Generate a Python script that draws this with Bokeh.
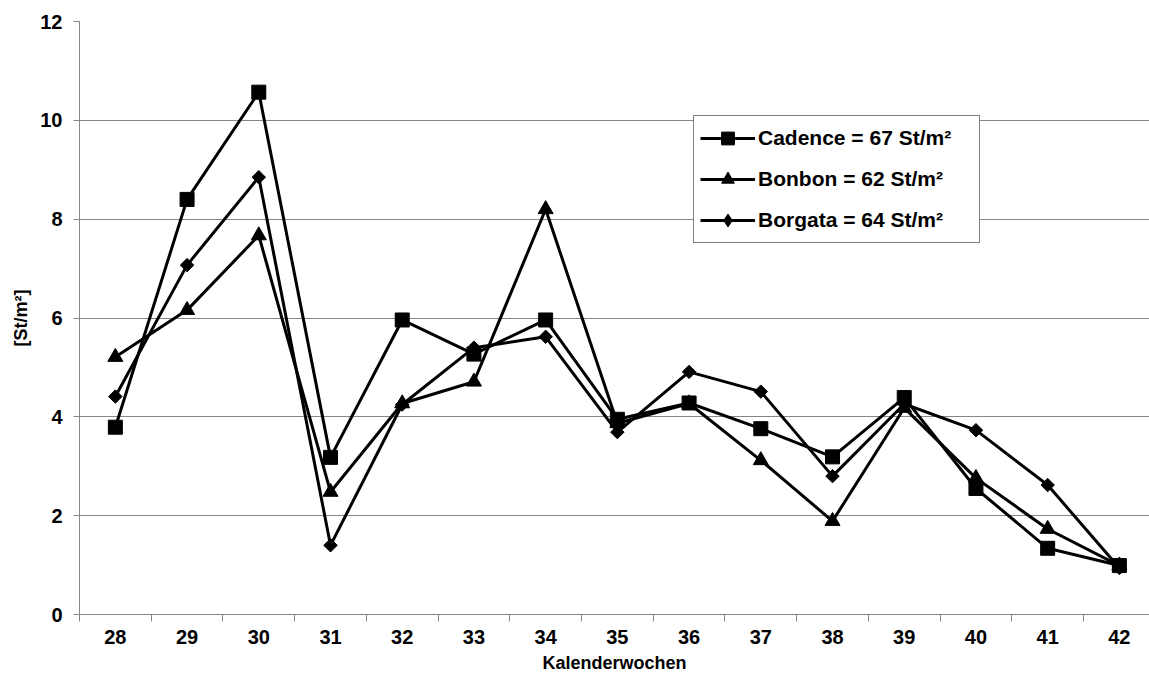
import math
from bokeh.plotting import figure
from bokeh.models import Range1d, FixedTicker, Legend, LegendItem, ColumnDataSource
from bokeh.embed import file_html
from bokeh.resources import INLINE

weeks = [28, 29, 30, 31, 32, 33, 34, 35, 36, 37, 38, 39, 40, 41, 42]
cadence = [3.79, 8.40, 10.57, 3.18, 5.96, 5.27, 5.96, 3.95, 4.28, 3.76, 3.19, 4.39, 2.55, 1.34, 0.99]
bonbon = [5.21, 6.16, 7.67, 2.48, 4.27, 4.71, 8.20, 3.87, 4.27, 3.12, 1.89, 4.18, 2.76, 1.73, 0.99]
borgata = [4.41, 7.07, 8.85, 1.40, 4.25, 5.40, 5.62, 3.69, 4.91, 4.51, 2.80, 4.26, 3.73, 2.62, 0.94]
labels = ["Cadence = 67 St/m²", "Bonbon = 62 St/m²", "Borgata = 64 St/m²"]
y_ticks = [0, 2, 4, 6, 8, 10, 12]

FONT = "Liberation Sans"
GRAY = "#868686"

p = figure(width=1149, height=684, output_backend="svg", toolbar_location=None,
           x_range=Range1d(27.5, 42.42), y_range=Range1d(0, 12),
           min_border_left=79, min_border_right=0, min_border_top=21, min_border_bottom=70)
p.outline_line_color = None
p.background_fill_color = "white"
p.border_fill_color = "white"

p.xgrid.grid_line_color = None
p.ygrid.grid_line_color = GRAY
p.ygrid.grid_line_width = 1

p.xaxis.ticker = FixedTicker(ticks=weeks, minor_ticks=[w + 0.5 for w in [27] + weeks])
p.xaxis.major_tick_out = 0
p.xaxis.major_tick_in = 0
p.xaxis.minor_tick_out = 7
p.xaxis.minor_tick_in = 0
p.xaxis.minor_tick_line_color = GRAY
p.yaxis.ticker = FixedTicker(ticks=y_ticks)
p.yaxis.minor_tick_line_color = None
p.yaxis.major_tick_out = 6
p.yaxis.major_tick_in = 0

for ax in (p.xaxis, p.yaxis):
    ax.axis_line_color = GRAY
    ax.major_tick_line_color = GRAY
    ax.major_label_text_font = FONT
    ax.major_label_text_font_style = "bold"
    ax.major_label_text_font_size = "20px"
    ax.major_label_text_color = "black"
    ax.axis_label_text_font = FONT
    ax.axis_label_text_font_style = "bold"
    ax.axis_label_text_font_size = "18px"
    ax.axis_label_text_color = "black"

p.xaxis.axis_label = "Kalenderwochen"
p.yaxis.axis_label = "[St/m²]"
p.xaxis.major_label_standoff = 8
p.xaxis.axis_label_standoff = 6
p.yaxis.major_label_standoff = 11
p.yaxis.axis_label_standoff = 6

items = []
series = [(cadence, "square", 14, 0.0, "square"),
          (bonbon, "triangle", 15, 0.0, "triangle"),
          (borgata, "square", 9.5, math.pi / 4, "diamond")]
for (vals, marker, size, ang, leg_marker), lab in zip(series, labels):
    src = ColumnDataSource(dict(x=weeks, y=vals))
    l = p.line("x", "y", source=src, line_color="black", line_width=3)
    s = p.scatter("x", "y", source=src, marker=marker, size=size, angle=ang,
                  fill_color="black", line_color="black")
    if ang:
        # legend markers are never rotated, so use a legend-only diamond glyph
        leg_src = ColumnDataSource(dict(x=[float("nan")], y=[float("nan")]))
        leg = p.scatter("x", "y", source=leg_src, marker=leg_marker, size=size,
                        fill_color="black", line_color="black")
        items.append(LegendItem(label=lab, renderers=[l, leg]))
    else:
        items.append(LegendItem(label=lab, renderers=[l, s]))

legend = Legend(items=items, location=(614, 371))
legend.label_text_font = FONT
legend.label_text_font_style = "bold"
legend.label_text_font_size = "21px"
legend.label_text_color = "black"
legend.border_line_color = "black"
legend.border_line_width = 1
legend.background_fill_alpha = 1
legend.padding = 6
legend.spacing = 9
legend.glyph_width = 55
legend.glyph_height = 32
legend.label_height = 32
legend.label_width = 215
legend.label_standoff = 3
legend.margin = 0
p.add_layout(legend, "center")

open("out.html", "w").write(file_html(p, INLINE))
